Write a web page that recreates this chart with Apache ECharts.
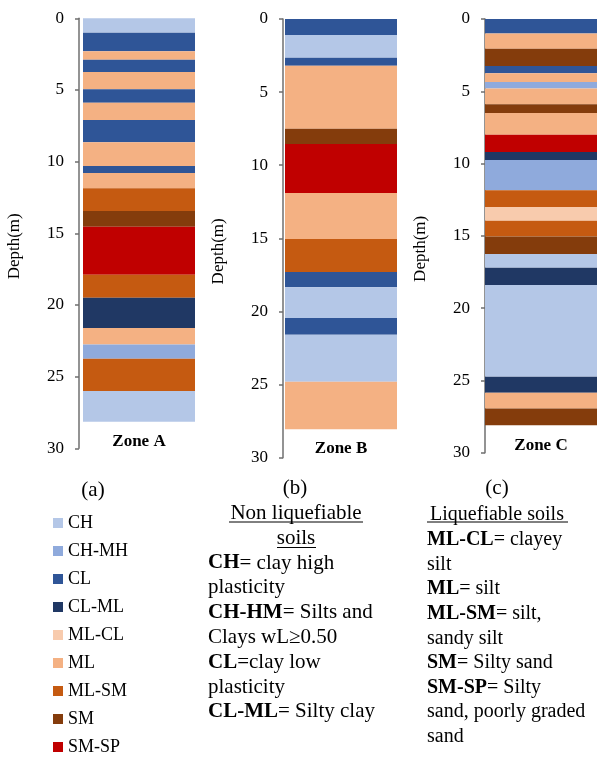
<!DOCTYPE html>
<html><head><meta charset="utf-8">
<script src="https://cdn.jsdelivr.net/npm/echarts@6/dist/echarts.min.js"></script>
<style>html,body{margin:0;padding:0;background:#fff}#c{width:597px;height:757px}</style>
</head><body><div id="c"></div>
<script>
// ---- data ----
const soilTypes = ['CH','CH-MH','CL','CL-ML','ML-CL','ML','ML-SM','SM','SM-SP'];
const soilColors = ['#B4C7E7','#8FAADC','#2F5597','#203864','#F8CBAD','#F4B183','#C55A11','#843C0C','#C00000'];
const zones = ['Zone A','Zone B','Zone C'];
const depthTicks = [0,5,10,15,20,25,30];
const panelLetters = ['(a)','(b)','(c)'];

const zoneALayers  = ['CH','CL','ML','CL','ML','CL','ML','CL','ML','CL','ML','ML-SM','SM','SM-SP','ML-SM','CL-ML','ML','CH-MH','ML-SM','CH'];
const zoneABottoms = [1.0,2.3,2.9,3.75,4.95,5.9,7.1,8.65,10.3,10.8,11.85,13.45,14.55,17.9,19.5,21.6,22.75,23.75,26.0,28.15];

const zoneBLayers  = ['CL','CH','CL','ML','SM','SM-SP','ML','ML-SM','CL','CH','CL','CH','ML'];
const zoneBBottoms = [1.1,2.65,3.2,7.5,8.55,11.9,15.05,17.3,18.35,20.45,21.6,24.8,28.05];

const zoneCLayers  = ['CL','ML','SM','CL','ML','CH-MH','ML','SM','ML','SM-SP','CL-ML','CH-MH','ML-SM','ML-CL','ML-SM','SM','CH','CL-ML','CH','CL-ML','ML','SM'];
const zoneCBottoms = [1.0,2.05,3.25,3.75,4.35,4.8,5.9,6.5,8.0,9.2,9.75,11.85,13.0,13.95,15.05,16.25,17.2,18.4,24.75,25.85,26.95,28.1];

const nonLiqHeader = ['Non liquefiable','soils'];
const nonLiqLines = ['{b|CH}= clay high','plasticity','{b|CH-HM}= Silts and','Clays wL≥0.50','{b|CL}=clay low','plasticity','{b|CL-ML}= Silty clay'];
const liqHeader = ['Liquefiable soils'];
const liqLines = ['{b|ML-CL}= clayey','silt','{b|ML}= silt','{b|ML-SM}= silt,','sandy silt','{b|SM}= Silty sand','{b|SM-SP}= Silty','sand, poorly graded','sand'];

// ---- layout ----
const FF = 'Liberation Serif, Times New Roman, serif';
const grids = [
  {left:79, top:18.3, width:120, height:430},
  {left:283, top:19, width:116, height:438.7},
  {left:485, top:19, width:134, height:433.7}
];
const barWidths = [112,112,128];
const labelOffsets = [-23,-25.5,-24];
const axisColor = '#6f6f6f';

const zoneLayers = [zoneALayers, zoneBLayers, zoneCLayers];
const zoneBottoms = [zoneABottoms, zoneBBottoms, zoneCBottoms];

const series = [];
zoneLayers.forEach((layers, z) => {
  let prev = 0;
  layers.forEach((t, i) => {
    const b = zoneBottoms[z][i];
    series.push({
      type:'bar', name:t, stack:'zone'+z, xAxisIndex:z, yAxisIndex:z,
      barWidth:barWidths[z],
      itemStyle:{color:soilColors[soilTypes.indexOf(t)]},
      data:[+(b-prev).toFixed(3)],
      silent:true
    });
    prev = b;
  });
});

const xAxis = zones.map((zn, z) => ({
  type:'category', gridIndex:z, data:[zn], offset:labelOffsets[z],
  axisLine:{show:false}, axisTick:{show:false},
  axisLabel:{fontFamily:FF, fontSize:17, fontWeight:'bold', color:'#000', margin:8}
}));
const yAxis = zones.map((zn, z) => ({
  type:'value', gridIndex:z, min:depthTicks[0], max:depthTicks[depthTicks.length-1],
  interval:depthTicks[1]-depthTicks[0], inverse:true,
  name:'Depth(m)', nameLocation:'middle', nameGap:56, nameRotate:90,
  nameTextStyle:{fontFamily:FF, fontSize:17, color:'#000', padding:[0,26,0,0]},
  axisLine:{show:true, lineStyle:{color:axisColor, width:1.5}},
  axisTick:{show:true, length:4, lineStyle:{color:axisColor, width:1.5}},
  splitLine:{show:false},
  axisLabel:{fontFamily:FF, fontSize:17, color:'#000', margin:15}
}));

const graphic = [];
const letterPos = [[93,490],[295,488],[497,488]];
panelLetters.forEach((l, i) => graphic.push({type:'text', x:letterPos[i][0], y:letterPos[i][1],
  style:{text:l, fontFamily:FF, fontSize:21, fill:'#000', align:'center', verticalAlign:'middle'}}));

function addHeader(lines, cx, y0, dy, fs, uls){
  lines.forEach((s, i) => graphic.push({type:'text', x:cx, y:y0+i*dy,
    style:{text:s, fontFamily:FF, fontSize:fs, fill:'#000', align:'center', verticalAlign:'middle'}}));
  uls.forEach(u => graphic.push({type:'line', shape:{x1:u[0], y1:u[2], x2:u[1], y2:u[2]}, style:{stroke:'#000', lineWidth:1}}));
}
function addLines(lines, x, y0, dy, fs){
  const rich = {b:{fontFamily:FF, fontSize:fs, fontWeight:'bold', fill:'#000'}};
  lines.forEach((s, i) => graphic.push({type:'text', x:x, y:y0+i*dy,
    style:{text:s, rich:rich, fontFamily:FF, fontSize:fs, fill:'#000', align:'left', verticalAlign:'middle'}}));
}
addHeader(nonLiqHeader, 296, 513, 25, 21, [[229,363,522],[277,316,547.5]]);
addLines(nonLiqLines, 208, 563, 24.8, 21);
addHeader(liqHeader, 497, 515, 25, 20, [[427,568,522]]);
addLines(liqLines, 427, 540, 24.6, 20);

const chart = echarts.init(document.getElementById('c'));
chart.setOption({
  animation:false,
  backgroundColor:'#fff',
  grid:grids,
  xAxis:xAxis,
  yAxis:yAxis,
  legend:{
    data:soilTypes, orient:'vertical', left:53, top:514, padding:0,
    itemWidth:10, itemHeight:10, itemGap:10, icon:'rect', selectedMode:false,
    textStyle:{fontFamily:FF, fontSize:18, color:'#000'}
  },
  graphic:graphic,
  series:series
});
</script></body></html>
